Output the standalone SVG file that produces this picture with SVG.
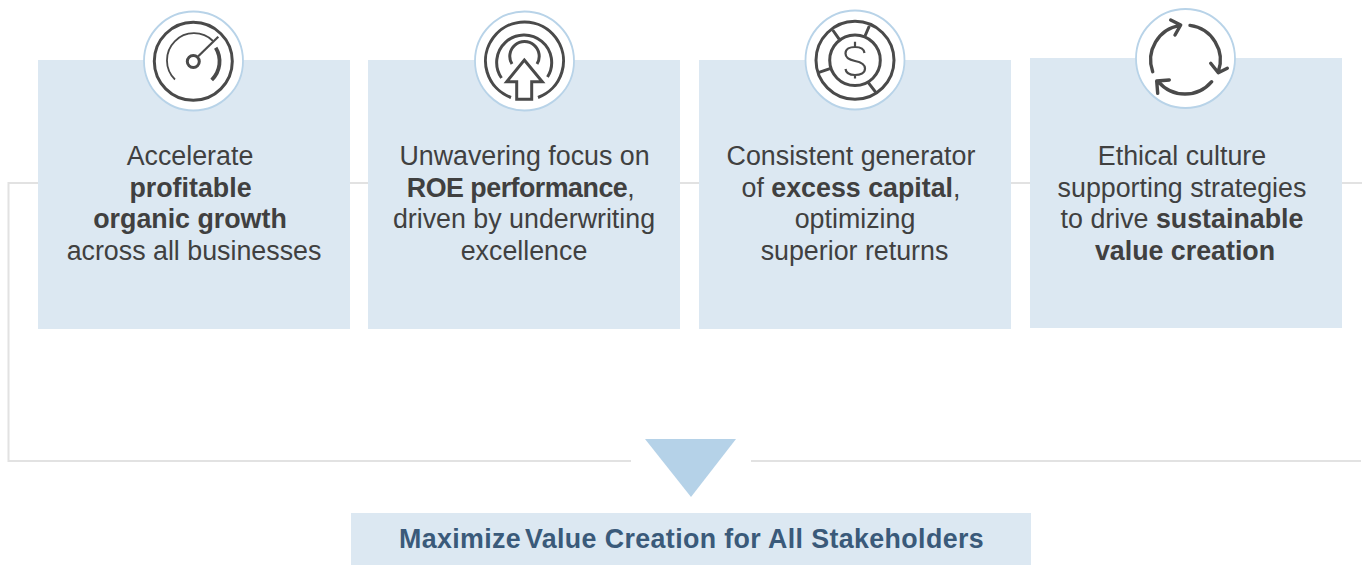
<svg xmlns="http://www.w3.org/2000/svg" width="1362" height="565" viewBox="0 0 1362 565">
<style>
.box{fill:#dce8f2}
.halo{fill:#fff;stroke:#b8d3e8;stroke-width:1.800}
.ic{fill:none;stroke:#4a4a4a;stroke-width:3}
.cy{stroke-width:3.400;stroke-linecap:round;stroke-linejoin:round}
.t{font-family:"Liberation Sans",Arial,sans-serif;font-size:26.800px;fill:#404040;text-anchor:middle}
.b{font-weight:700}
.conn{fill:none;stroke:#e2e2e2;stroke-width:2}
</style>
<rect width="1362" height="565" fill="#fff"/>
<g id="connectors">
<path class="conn" d="M38 183H8.500V461H631"/>
<path class="conn" d="M751 461H1361"/>
<path class="conn" d="M350 183H368M680 183H699M1011 183H1030M1342 183H1362"/>
</g>
<g id="node-growth">
<rect class="box" x="38" y="60" width="312" height="269"/>
<circle class="halo" cx="193.500" cy="61" r="49.500"/>
<circle class="ic" cx="193.300" cy="61.300" r="39"/>
<path class="ic" style="stroke-width:1.800" d="M175 79.500A26 26 0 0 1 213 41"/>
<path class="ic" style="stroke-width:3.800" d="M215.700 47.700A26 26 0 0 1 211.700 80"/>
<circle class="ic" cx="193.300" cy="61.500" r="6"/>
<path class="ic" style="stroke-width:2.200" d="M198 56.500L218.300 36.700"/>
<text class="t"><tspan x="190" y="164.500">Accelerate</tspan><tspan class="b" x="190.500" y="196.500">profitable</tspan><tspan class="b" x="190" y="227.500">organic growth</tspan><tspan x="194" y="259.500">across all businesses</tspan></text>
</g>
<g id="node-roe">
<rect class="box" x="368" y="60" width="312" height="269"/>
<circle class="halo" cx="524.500" cy="61" r="49.500"/>
<path class="ic" d="M511 97.500A39 39 0 1 1 538 97.500"/>
<path class="ic" d="M501.500 78A27.500 27.500 0 1 1 547.500 77"/>
<path class="ic" d="M512 64A14.700 14.700 0 1 1 537 64"/>
<path class="ic" d="M524.300 60L542.300 81.700H531.700V99.300H516.700V81.700H506.700Z"/>
<text class="t"><tspan x="524.500" y="164.500">Unwavering focus on</tspan><tspan x="520.500" y="196.500" letter-spacing="-.5"><tspan class="b">ROE performance</tspan>,</tspan><tspan x="524" y="227.500">driven by underwriting</tspan><tspan x="524" y="259.500">excellence</tspan></text>
</g>
<g id="node-capital">
<rect class="box" x="699" y="60" width="312" height="269"/>
<circle class="halo" cx="855" cy="60" r="49.500"/>
<circle class="ic" cx="855" cy="60.300" r="39"/>
<circle class="ic" cx="855" cy="60.300" r="25.300"/>
<path class="ic" d="M832.700 30L839.300 39.300M869.300 26L865 36M818.300 72.700L830.700 68.300M868.300 82.700L876 92.700"/>
<path class="ic" style="stroke-width:2.200" d="M864.500 53C864 49 860 47 855 47C850 47 845.500 49 845.500 53.500C845.500 58 850 60 855 61C860 62 865 64 865 68.500C865 73 860 75 855 75C850 75 846 73 845.500 69M855 41.700V47M855 75V78.500"/>
<text class="t"><tspan x="851" y="164.500">Consistent generator</tspan><tspan x="851" y="196.500">of <tspan class="b">excess capital</tspan>,</tspan><tspan x="855" y="227.500">optimizing</tspan><tspan x="854.500" y="259.500">superior returns</tspan></text>
</g>
<g id="node-culture">
<rect class="box" x="1030" y="58" width="312" height="270"/>
<circle class="halo" cx="1185.500" cy="58.500" r="49.500"/>
<path class="ic cy" d="M1152.700 71.700A35 35 0 0 1 1180 25.400M1170.700 20L1180.700 25L1175 35"/>
<path class="ic cy" d="M1190 25.400A35 35 0 0 1 1218.300 71.700M1210.700 63.300L1218.300 72.700L1227.300 68.300"/>
<path class="ic cy" d="M1211.700 81.700A35 35 0 0 1 1158.300 81.700M1157.700 93.300L1156.700 81L1169.300 80"/>
<text class="t"><tspan x="1182" y="164.500">Ethical culture</tspan><tspan x="1182" y="196.500">supporting strategies</tspan><tspan x="1182" y="227.500">to drive <tspan class="b">sustainable</tspan></tspan><tspan class="b" x="1185" y="259.500">value creation</tspan></text>
</g>
<polygon id="arrow" points="645,439 736,439 691,497" fill="#b5d2e8"/>
<g id="node-result">
<rect class="box" x="351" y="513" width="680" height="52"/>
<text class="t b" x="691.500" y="548" style="fill:#3a5a7a;letter-spacing:.38px"><tspan>Maximize</tspan><tspan dx="-4"> Value Creation for All Stakeholders</tspan></text>
</g>
</svg>
